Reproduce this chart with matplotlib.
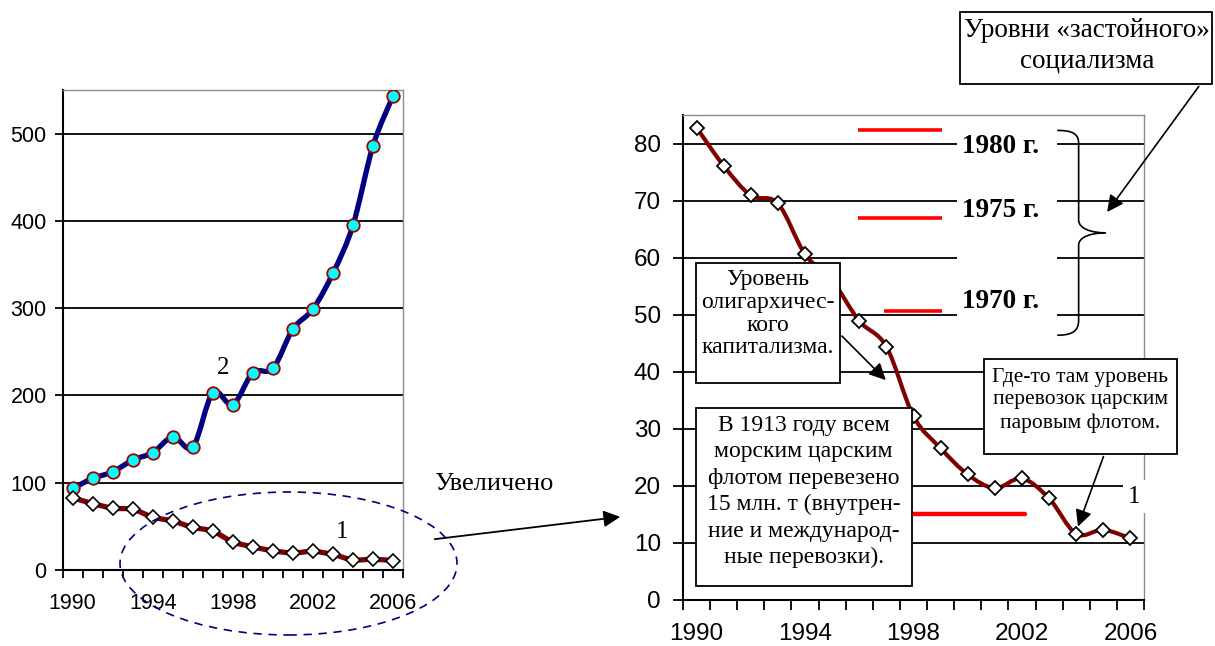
import numpy as np
import matplotlib
matplotlib.use("Agg")
import matplotlib.pyplot as plt
from matplotlib.path import Path
from matplotlib.patches import PathPatch, Rectangle, Ellipse, FancyArrowPatch

# -- Data ----------------------------------------------------------------------
years = list(range(1990, 2007))
tick_years = [1990, 1994, 1998, 2002, 2006]

# series 2 (left chart, rising)
series2 = [93.5, 105, 112.5, 126, 134.5, 152.5, 141, 203, 189.5, 226,
           231, 276, 299, 340, 395, 486, 543]
# series 1 (falling; shown on both charts)
series1 = [82.8, 76.1, 70.9, 69.5, 60.6, 56.0, 48.9, 44.4, 32.2, 26.6,
           22.0, 19.6, 21.3, 17.8, 11.6, 12.3, 10.8]

# "stagnant socialism" levels and the 1913 level
soc_labels = ["1980 г.", "1975 г.", "1970 г."]
soc_levels = [82.3, 67.0, 50.6]
level_1913 = 15.0

SERIF = ["Liberation Serif", "DejaVu Serif"]
SANS = ["Liberation Sans", "DejaVu Sans"]

W, H = 1215, 646


def smooth_path(xs, ys):
    """Bezier path through the points (Excel-like smoothing)."""
    pts = np.column_stack([xs, ys]).astype(float)
    verts = [pts[0]]
    codes = [Path.MOVETO]
    n = len(pts)
    for i in range(n - 1):
        p0 = pts[i - 1] if i > 0 else pts[i]
        p1 = pts[i]
        p2 = pts[i + 1]
        p3 = pts[i + 2] if i + 2 < n else pts[i + 1]
        c1 = p1 + (p2 - p0) / 6.0
        c2 = p2 - (p3 - p1) / 6.0
        verts += [c1, c2, p2]
        codes += [Path.CURVE4] * 3
    return Path(verts, codes)


def style_axes(ax, ymax, ystep, size, xpad, ypad, ticklen):
    ax.set_xlim(-0.5, len(years) - 0.5)
    ax.set_ylim(0, ymax)
    ax.set_axisbelow(True)
    ax.set_yticks(np.arange(0, ymax + 0.1, ystep))
    ax.yaxis.grid(True, color="black", linewidth=1.3)
    ax.set_xticks([years.index(y) for y in tick_years])
    ax.set_xticklabels([str(y) for y in tick_years])
    ax.set_xticks(np.arange(-0.5, len(years)), minor=True)
    ax.tick_params(axis="x", which="major", length=0, pad=xpad)
    ax.tick_params(axis="x", which="minor", length=ticklen, width=1.3,
                   direction="out")
    ax.tick_params(axis="y", length=ticklen, width=1.3, direction="out",
                   pad=ypad)
    for lab in ax.get_xticklabels() + ax.get_yticklabels():
        lab.set_fontfamily(SANS)
        lab.set_fontsize(size)
    for s in ("left", "bottom"):
        ax.spines[s].set_linewidth(1.5)
        ax.spines[s].set_color("black")
    for s in ("top", "right"):
        ax.spines[s].set_linewidth(1.0)
        ax.spines[s].set_color("#8c8c8c")


fig = plt.figure(figsize=(W / 100, H / 100), dpi=100)
fig.patch.set_facecolor("white")

xs = np.arange(len(years))

# ---- LEFT chart --------------------------------------------------------------
ax1 = fig.add_axes([62.7 / W, (H - 570) / H, 340.3 / W, 480 / H])
style_axes(ax1, 550, 100, 15.5, 16.5, 6, 5.5)

ax1.add_patch(PathPatch(smooth_path(xs, series2), fc="none", ec="#000080",
                        lw=3.8, zorder=3, capstyle="round"))
ax1.plot(xs, series2, ls="none", marker="o", ms=9, mfc="#00ffff",
         mec="#a00000", mew=1.3, zorder=4)
ax1.add_patch(PathPatch(smooth_path(xs, series1), fc="none", ec="#800000",
                        lw=3.8, zorder=3, capstyle="round"))
ax1.plot(xs, series1, ls="none", marker="D", ms=6.8, mfc="white",
         mec="black", mew=1.2, zorder=4)

ax1.text(7.5, 232, "2", family=SERIF, fontsize=18, ha="center", va="center")
ax1.text(13.45, 43, "1", family=SERIF, fontsize=18, ha="center", va="center")

# dashed ellipse marking the zoomed region
fig.add_artist(Ellipse((288.5 / W, 1 - 563.5 / H), 337 / W, 143 / H,
                       transform=fig.transFigure, fc="none", ec="#000080",
                       lw=1.2, ls=(0, (5, 4)), zorder=10))

fig.text(494 / W, 1 - 484 / H, "Увеличено", family=SERIF, fontsize=19,
         ha="center", va="center")
fig.add_artist(FancyArrowPatch(
    (432 / W, 1 - 539.5 / H), (623 / W, 1 - 516.5 / H),
    transform=fig.transFigure, arrowstyle="-|>", mutation_scale=25,
    color="black", lw=1.3, zorder=10))

# ---- RIGHT chart -------------------------------------------------------------
ax2 = fig.add_axes([683 / W, 46 / H, 461 / W, 485 / H])
style_axes(ax2, 85, 10, 17.5, 16.5, 9, 7)

ax2.add_patch(PathPatch(smooth_path(xs, series1), fc="none", ec="#800000",
                        lw=3.0, zorder=3, capstyle="round"))
ax2.plot(xs, series1, ls="none", marker="D", ms=7.2, mfc="white",
         mec="black", mew=1.3, zorder=4)

# red level segments
for lvl, x0 in zip(soc_levels, [5.95, 5.95, 6.9]):
    ax2.plot([x0, 9.06], [lvl, lvl], color="#ff0000", lw=2.6, zorder=3,
             solid_capstyle="butt")
ax2.plot([7.0, 12.1], [level_1913, level_1913], color="#ff0000", lw=3.2,
         zorder=3, solid_capstyle="round")

# white area behind year labels (breaks the gridlines)
ax2.add_patch(Rectangle((9.61, 46.0), 3.69, 36.5, fc="white", ec="none",
                        zorder=1))
for lab, ty in zip(soc_labels, [79.4, 68.3, 52.3]):
    ax2.text(11.2, ty, lab, family=SERIF, fontsize=19.5, fontweight="bold",
             ha="center", va="center", zorder=6)

# curly brace
bx0, bx1, bx2 = 13.3, 14.09, 15.08
brace = Path(
    [(bx0, 82.3), (13.9, 82.3), (bx1, 81.6), (bx1, 80.0),
     (bx1, 66.6),
     (bx1, 65.0), (14.6, 64.35), (bx2, 64.35),
     (14.6, 64.35), (bx1, 63.7), (bx1, 62.2),
     (bx1, 49.0),
     (bx1, 47.3), (13.9, 46.4), (bx0, 46.4)],
    [Path.MOVETO, Path.CURVE4, Path.CURVE4, Path.CURVE4,
     Path.LINETO,
     Path.CURVE4, Path.CURVE4, Path.CURVE4,
     Path.CURVE4, Path.CURVE4, Path.CURVE4,
     Path.LINETO,
     Path.CURVE4, Path.CURVE4, Path.CURVE4])
ax2.add_patch(PathPatch(brace, fc="none", ec="black", lw=1.2, zorder=6,
                        clip_on=False))

# label "1" with white background over the grid and right spine
ax2.text(16.15, 18.1, "1", family=SERIF, fontsize=18, ha="center",
         va="center", zorder=6,
         bbox=dict(fc="white", ec="none", pad=4))


def text_box(ax, x0, y0, x1, y1, tx, ty, txt, size, spacing):
    ax.add_patch(Rectangle((x0, y0), x1 - x0, y1 - y0, fc="white",
                           ec="black", lw=1.3, zorder=7, clip_on=False))
    ax.text(tx, ty, txt, family=SERIF, fontsize=size, ha="center",
            va="center", multialignment="center", linespacing=spacing,
            zorder=8)


text_box(ax2, -0.03, 38.0, 5.29, 59.0, 2.63, 50.2,
         "Уровень\nолигархичес-\nкого\nкапитализма.", 17, 1.12)
text_box(ax2, -0.03, 2.45, 7.93, 33.7, 3.95, 19.0,
         "В 1913 году всем\nморским царским\nфлотом перевезено\n"
         "15 млн. т (внутрен-\nние и международ-\nные перевозки).",
         17, 1.33)
text_box(ax2, 10.61, 25.6, 17.7, 42.2, 14.15, 35.0,
         "Где-то там уровень\nперевозок царским\nпаровым флотом.",
         15.5, 1.28)

arrow_kw = dict(arrowstyle="-|>", color="black", lw=1.2, mutation_scale=25)
ax2.annotate("", xy=(7.05, 38.2), xytext=(5.29, 46.6),
             arrowprops=arrow_kw, zorder=8)
ax2.annotate("", xy=(14.03, 12.4), xytext=(15.04, 25.6),
             arrowprops=arrow_kw, zorder=8)
ax2.annotate("", xy=(15.08, 67.6), xytext=(18.58, 90.4),
             arrowprops=arrow_kw, zorder=8, annotation_clip=False)

# top box "Уровни «застойного» социализма"
fig.add_artist(Rectangle((960 / W, 1 - 84 / H), 252 / W, 72 / H,
                         transform=fig.transFigure, fc="white", ec="black",
                         lw=1.3, zorder=9))
fig.text(1087 / W, 1 - 46 / H, "Уровни «застойного»\nсоциализма",
         family=SERIF, fontsize=19.5, ha="center", va="center",
         multialignment="center", linespacing=1.3, zorder=10)

fig.savefig("out.png", dpi=100, facecolor="white")
